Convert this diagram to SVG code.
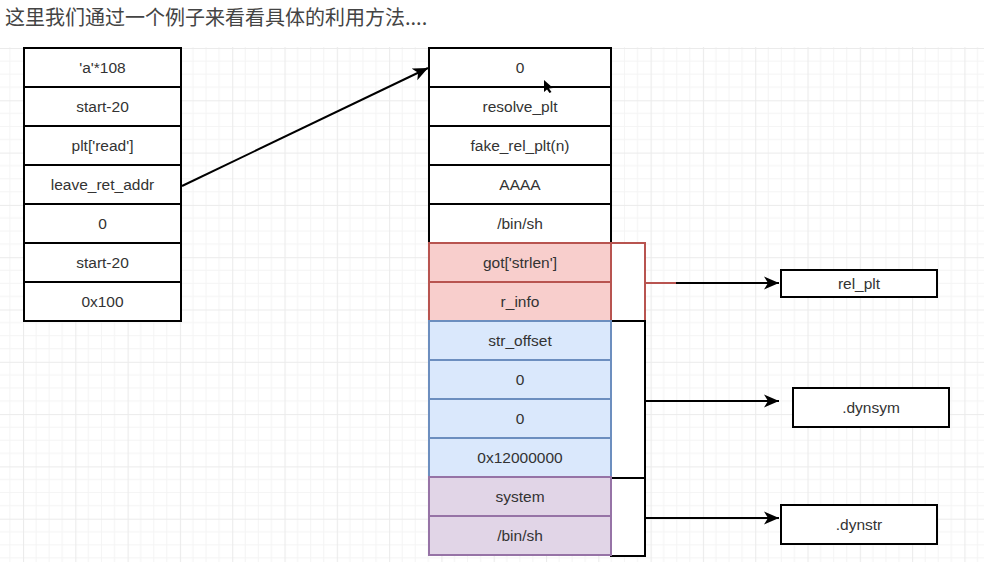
<svg xmlns="http://www.w3.org/2000/svg" width="984" height="562" viewBox="0 0 984 562">
<defs>
<pattern id="grid" patternUnits="userSpaceOnUse" x="23" y="48" width="52.3" height="52.3">
<path d="M13.07 0V52.3M26.15 0V52.3M39.22 0V52.3M0 13.07H52.3M0 26.15H52.3M0 39.22H52.3" stroke="#f4f4f4" stroke-width="1" fill="none"/>
<path d="M0.5 0V52.3M0 0.5H52.3" stroke="#ebebeb" stroke-width="1.2" fill="none"/>
</pattern>
<marker id="arr" markerUnits="userSpaceOnUse" markerWidth="16" markerHeight="14" refX="15" refY="7" orient="auto">
<path d="M0,0.5 L15,7 L0,13.5 L4,7 Z" fill="#000"/>
</marker>
<style>
.cell{fill:#fff;stroke:#000;stroke-width:2}
.red{fill:#f8cecc;stroke:#b85450;stroke-width:2}
.blue{fill:#dae8fc;stroke:#6c8ebf;stroke-width:2}
.purple{fill:#e1d5e7;stroke:#9673a6;stroke-width:2}
.t{font-family:"Liberation Sans",Arial,sans-serif;font-size:15.5px;fill:#333;text-anchor:middle}
.conn{stroke:#000;stroke-width:2;fill:none}
</style>
</defs>
<rect x="0" y="0" width="984" height="562" fill="#fff"/>
<rect x="0" y="47" width="984" height="515" fill="url(#grid)"/>
<text x="5" y="25" font-family="'Noto Sans CJK SC','Noto Sans',sans-serif" font-size="20" fill="#444">这里我们通过一个例子来看看具体的利用方法....</text>

<g id="brackets">
<rect x="611" y="243" width="34" height="78" fill="#fff" stroke="#b85450" stroke-width="2"/>
<rect x="611" y="321" width="34" height="157" fill="#fff" stroke="#000" stroke-width="2"/>
<rect x="611" y="478" width="34" height="78" fill="#fff" stroke="#000" stroke-width="2"/>
</g>

<g id="left-stack">
<g id="l1"><rect class="cell" x="24" y="48" width="157" height="39"/><text class="t" x="102.5" y="73">'a'*108</text></g>
<g id="l2"><rect class="cell" x="24" y="87" width="157" height="39"/><text class="t" x="102.5" y="112">start-20</text></g>
<g id="l3"><rect class="cell" x="24" y="126" width="157" height="39"/><text class="t" x="102.5" y="151">plt['read']</text></g>
<g id="l4"><rect class="cell" x="24" y="165" width="157" height="39"/><text class="t" x="102.5" y="190">leave_ret_addr</text></g>
<g id="l5"><rect class="cell" x="24" y="204" width="157" height="39"/><text class="t" x="102.5" y="229">0</text></g>
<g id="l6"><rect class="cell" x="24" y="243" width="157" height="39"/><text class="t" x="102.5" y="268">start-20</text></g>
<g id="l7"><rect class="cell" x="24" y="282" width="157" height="39"/><text class="t" x="102.5" y="307">0x100</text></g>
</g>

<g id="right-stack">
<g id="r1"><rect class="cell" x="429" y="48" width="182" height="39"/><text class="t" x="520" y="73">0</text></g>
<g id="r2"><rect class="cell" x="429" y="87" width="182" height="39"/><text class="t" x="520" y="112">resolve_plt</text></g>
<g id="r3"><rect class="cell" x="429" y="126" width="182" height="39"/><text class="t" x="520" y="151">fake_rel_plt(n)</text></g>
<g id="r4"><rect class="cell" x="429" y="165" width="182" height="39"/><text class="t" x="520" y="190">AAAA</text></g>
<g id="r5"><rect class="cell" x="429" y="204" width="182" height="39"/><text class="t" x="520" y="229">/bin/sh</text></g>
<g id="r6"><rect class="red" x="429" y="243" width="182" height="39"/><text class="t" x="520" y="268">got['strlen']</text></g>
<g id="r7"><rect class="red" x="429" y="282" width="182" height="39"/><text class="t" x="520" y="307">r_info</text></g>
<g id="r8"><rect class="blue" x="429" y="321" width="182" height="39"/><text class="t" x="520" y="346">str_offset</text></g>
<g id="r9"><rect class="blue" x="429" y="360" width="182" height="39"/><text class="t" x="520" y="385">0</text></g>
<g id="r10"><rect class="blue" x="429" y="399" width="182" height="39"/><text class="t" x="520" y="424">0</text></g>
<g id="r11"><rect class="blue" x="429" y="438" width="182" height="39"/><text class="t" x="520" y="463">0x12000000</text></g>
<g id="r12"><rect class="purple" x="429" y="477" width="182" height="39"/><text class="t" x="520" y="502">system</text></g>
<g id="r13"><rect class="purple" x="429" y="516" width="182" height="39"/><text class="t" x="520" y="541">/bin/sh</text></g>
</g>

<g id="rel_plt"><rect class="cell" x="781" y="270" width="156" height="27"/><text class="t" x="859" y="289">rel_plt</text></g>
<g id="dynsym"><rect class="cell" x="793" y="388" width="156" height="39"/><text class="t" x="871" y="413">.dynsym</text></g>
<g id="dynstr"><rect class="cell" x="781" y="505" width="156" height="39"/><text class="t" x="859" y="530">.dynstr</text></g>

<g id="connectors">
<line class="conn" x1="182" y1="186" x2="428" y2="68" marker-end="url(#arr)"/>
<line x1="645" y1="283" x2="677" y2="283" stroke="#b85450" stroke-width="2"/>
<line class="conn" x1="676" y1="283" x2="779" y2="283" marker-end="url(#arr)"/>
<line class="conn" x1="645" y1="401" x2="779" y2="401" marker-end="url(#arr)"/>
<line class="conn" x1="645" y1="518" x2="779" y2="518" marker-end="url(#arr)"/>
</g>

<polygon points="544,80 544,92 547,89.5 549.5,93 551.5,92 549,88.5 553,88" fill="#000"/>
</svg>
